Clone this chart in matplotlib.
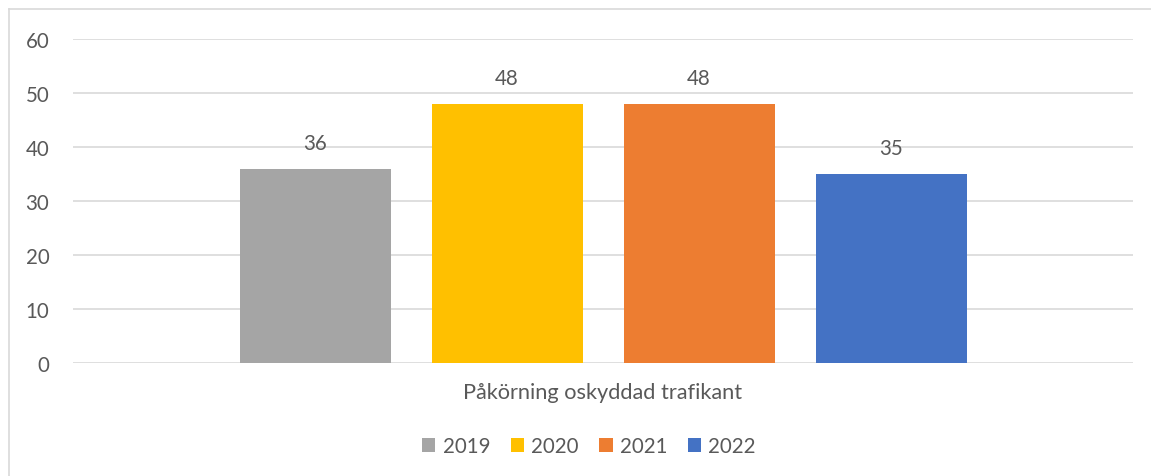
import matplotlib
matplotlib.use("Agg")
import matplotlib.pyplot as plt
from matplotlib.patches import Patch
from matplotlib.lines import Line2D

category = "Påkörning oskyddad trafikant"
years = ["2019", "2020", "2021", "2022"]
values = [36, 48, 48, 35]
colors = ["#A5A5A5", "#FFC000", "#ED7D31", "#4472C4"]
yticks = [0, 10, 20, 30, 40, 50, 60]

plt.rcParams['font.family'] = ['Lato', 'DejaVu Sans']
W, H = 1151, 477
fig = plt.figure(figsize=(W / 100, H / 100), dpi=100)
ax = fig.add_axes([73 / W, 1 - 364 / H, (1133 - 73) / W, (364 - 40) / H])

text_col = "#595959"
grid_col = "#D9D9D9"
fs = 14.8

bar_w = 151 / 1060
step = 192 / 1060
n = len(years)
for i, (y, v, c) in enumerate(zip(years, values, colors)):
    x = (i - (n - 1) / 2) * step
    ax.bar(x, v, width=bar_w, color=c, zorder=3, label=y)
    ax.annotate(str(v), (x, v), xytext=(0, 11.5), textcoords="offset points",
                ha="center", va="bottom", fontsize=fs, color=text_col)

ax.set_xlim(-0.5, 0.5)
ax.set_ylim(0, 60)
ax.set_yticks(yticks)
ax.set_yticklabels([str(t) for t in yticks], fontsize=fs, color=text_col)
ax.tick_params(axis="y", length=0, pad=17)
ax.set_xticks([0])
ax.set_xticklabels([category], fontsize=15.7, color=text_col)
ax.tick_params(axis="x", length=0, pad=14)
ax.grid(axis="y", color=grid_col, linewidth=1.2, zorder=0)
for s in ax.spines.values():
    s.set_visible(False)

# chart border (top and left visible)
fig.add_artist(Line2D([9 / W, 1], [1 - 10 / H, 1 - 10 / H], color=grid_col, linewidth=1.2))
fig.add_artist(Line2D([9 / W, 9 / W], [0, 1 - 10 / H], color=grid_col, linewidth=1.2))

handles = [Patch(facecolor=c, edgecolor="none") for c in colors]
leg = fig.legend(handles, years, loc="center", bbox_to_anchor=(589 / W, 1 - 447 / H),
                 ncol=4, frameon=False, fontsize=fs, handlelength=0.65, handleheight=0.65,
                 handletextpad=0.35, columnspacing=1.0)
for t in leg.get_texts():
    t.set_color(text_col)

fig.savefig("out.png", dpi=100)
